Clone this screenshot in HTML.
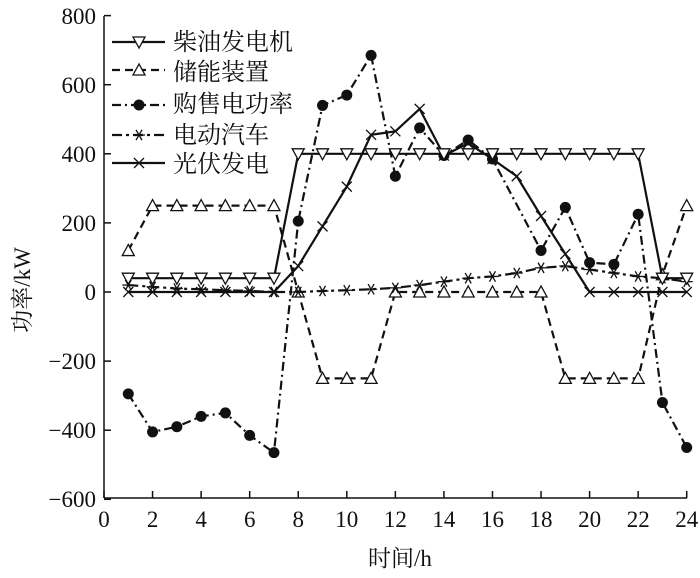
<!DOCTYPE html>
<html><head><meta charset="utf-8"><style>
html,body{margin:0;padding:0;background:#fff;}
svg{display:block;}
text{font-family:"Liberation Serif","Noto Serif CJK SC",serif;fill:#111;}
</style></head><body>
<svg id="s" width="700" height="578" viewBox="0 0 700 578" xmlns="http://www.w3.org/2000/svg">
<g stroke="#111" stroke-width="1.5" fill="none">
<line x1="104" y1="16" x2="104" y2="498"/>
<line x1="104" y1="498" x2="687" y2="498"/>
</g>
<g id="ticks" stroke="#111" stroke-width="1.5"></g>
<g font-size="23" text-anchor="end">
<text x="96" y="24">800</text><text x="96" y="93">600</text><text x="96" y="162">400</text>
<text x="96" y="231">200</text><text x="96" y="300">0</text><text x="96" y="369">−200</text>
<text x="96" y="438">−400</text><text x="96" y="507">−600</text>
</g>
<g font-size="23" text-anchor="middle">
<text x="104" y="527">0</text><text x="152.6" y="527">2</text><text x="201.1" y="527">4</text>
<text x="249.7" y="527">6</text><text x="298.2" y="527">8</text><text x="346.8" y="527">10</text>
<text x="395.4" y="527">12</text><text x="443.9" y="527">14</text><text x="492.5" y="527">16</text>
<text x="541" y="527">18</text><text x="589.6" y="527">20</text><text x="638.2" y="527">22</text>
<text x="686.7" y="527">24</text>
<text x="400" y="566">时间/h</text>
<text transform="translate(30,290) rotate(-90)">功率/kW</text>
</g>
<g id="series"></g>
<g font-size="24">
<text x="173" y="50">柴油发电机</text>
<text x="173" y="80">储能装置</text>
<text x="173" y="112">购售电功率</text>
<text x="173" y="143">电动汽车</text>
<text x="173" y="172">光伏发电</text>
</g>
</svg>
<script>
const X=h=>104+h*24.28, Y=v=>292-v*0.3455;
const s=document.getElementById('series'), t=document.getElementById('ticks');
const NS='http://www.w3.org/2000/svg';
function el(n,a,p){const e=document.createElementNS(NS,n);for(const k in a)e.setAttribute(k,a[k]);(p||s).appendChild(e);return e;}
for(let i=0;i<=24;i++){el('line',{x1:X(i),y1:498,x2:X(i),y2:i%2?498:491},t);}
for(let v=-600;v<=800;v+=200){el('line',{x1:104,y1:Y(v),x2:111,y2:Y(v)},t);}
const diesel=[40,40,40,40,40,40,40,400,400,400,400,400,400,400,400,400,400,400,400,400,400,400,40,40];
const store=[120,250,250,250,250,250,250,0,-250,-250,-250,0,0,0,0,0,0,0,-250,-250,-250,-250,50,250];
const grid=[-295,-405,-390,-360,-350,-415,-465,205,540,570,685,335,475,395,440,385,null,120,245,85,80,225,-320,-450];
const ev=[20,15,10,8,5,3,0,0,3,5,8,12,20,30,40,45,55,70,75,65,55,45,40,30];
const pv=[0,0,0,0,0,0,0,75,190,305,455,465,530,395,430,385,335,220,110,0,0,0,0,0];
function marker(type,x,y,g){
 if(type=='tdown')el('path',{d:`M${x-6} ${y-5}L${x+6} ${y-5}L${x} ${y+6}Z`,fill:'#fff',stroke:'#111','stroke-width':1.3},g);
 else if(type=='tup')el('path',{d:`M${x-6} ${y+5}L${x+6} ${y+5}L${x} ${y-6}Z`,fill:'#fff',stroke:'#111','stroke-width':1.3},g);
 else if(type=='dot')el('circle',{cx:x,cy:y,r:5.5,fill:'#111'},g);
 else if(type=='star'){for(const a of [0,60,120]){const r=a*Math.PI/180;el('line',{x1:x-6*Math.cos(r),y1:y-6*Math.sin(r),x2:x+6*Math.cos(r),y2:y+6*Math.sin(r),stroke:'#111','stroke-width':1.3},g);}}
 else if(type=='x'){el('path',{d:`M${x-5} ${y-5}L${x+5} ${y+5}M${x-5} ${y+5}L${x+5} ${y-5}`,stroke:'#111','stroke-width':1.3},g);}
}
function series(data,dash,type,ly){
 const g=el('g',{});
 const pts=[];data.forEach((v,i)=>{if(v!==null)pts.push(X(i+1)+','+Y(v));});
 el('polyline',{points:pts.join(' '),fill:'none',stroke:'#111','stroke-width':2.2,'stroke-dasharray':dash},g);
 data.forEach((v,i)=>{if(v!==null)marker(type,X(i+1),Y(v),g);});
 el('line',{x1:112,y1:ly,x2:165,y2:ly,stroke:'#111','stroke-width':2.2,'stroke-dasharray':dash},g);
 marker(type,139,ly,g);
}
series(store,'8,5','tup',70);
series(grid,'9,4,2,4','dot',105);
series(ev,'10,4,3,4','star',135);
series(pv,'none','x',163);
series(diesel,'none','tdown',42);
</script>
</body></html>
